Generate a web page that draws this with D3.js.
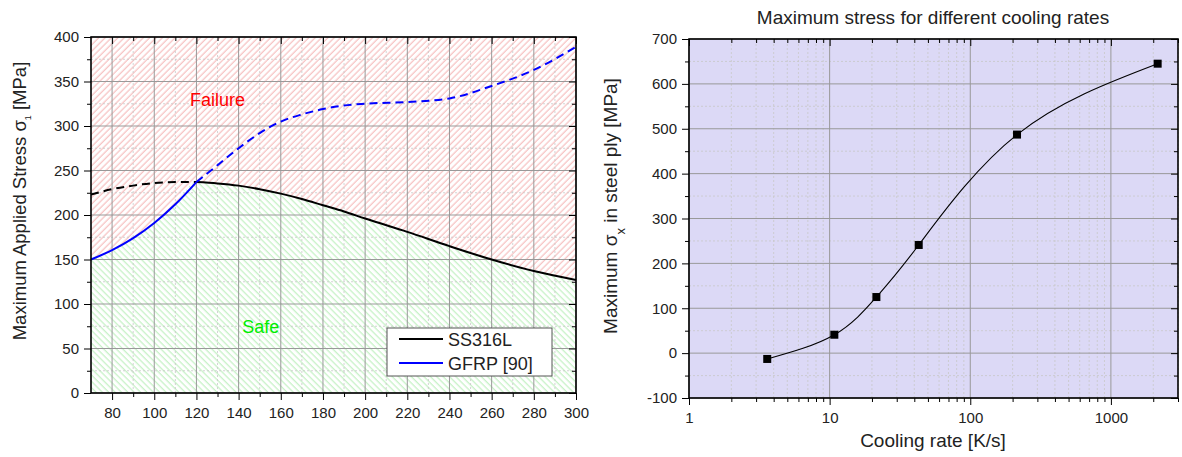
<!DOCTYPE html>
<html>
<head>
<meta charset="utf-8">
<script src="https://cdn.jsdelivr.net/npm/d3@7"></script>
<style>
  body { margin: 0; background: #fff; }
  text { font-family: "Liberation Sans", Arial, sans-serif; fill: #222; }
</style>
</head>
<body>
<div id="chart"></div>
<script>
// ---- left panel: applied stress vs temperature ----
var temps      = [70, 80, 90, 100, 110, 120, 130, 140, 150, 160, 170, 180, 190, 200, 220, 240, 260, 280, 300];
var ssStress   = [223, 229, 233, 236, 237, 237, 235.5, 233, 229, 224, 218, 211, 204, 196, 181, 165, 150, 137, 127];
var gfrpStress = [150, 160.5, 174, 191, 212, 237, 256, 275, 292, 305, 313, 319, 323, 325, 327, 331, 345, 363, 389];
var splitTemp = 120;
var leftXTicks = [80, 100, 120, 140, 160, 180, 200, 220, 240, 260, 280, 300];
var leftXMinor = [90, 110, 130, 150, 170, 190, 210, 230, 250, 270, 290];
var leftYTicks = [0, 50, 100, 150, 200, 250, 300, 350, 400];
var leftYMinor = [25, 75, 125, 175, 225, 275, 325, 375];
var legendNames = ["SS316L", "GFRP [90]"];

// ---- right panel: max stress vs cooling rate ----
var coolRates = [3.6, 10.8, 21.5, 43, 215, 2150];
var maxStress = [-13, 41, 125, 241, 487, 645];
var rightXTicks = [1, 10, 100, 1000];
var rightXMinor = [2, 3, 4, 5, 6, 7, 8, 9, 20, 30, 40, 50, 60, 70, 80, 90, 200, 300, 400, 500, 600, 700, 800, 900, 2000, 3000];
var rightYTicks = [-100, 0, 100, 200, 300, 400, 500, 600, 700];
var rightYMinor = [-50, 50, 150, 250, 350, 450, 550, 650];

var W = 1182, H = 457;
var svg = d3.select("#chart").append("svg").attr("width", W).attr("height", H);
svg.append("rect").attr("width", W).attr("height", H).attr("fill", "#fff");

var defs = svg.append("defs");
function hatch(id, color, angle) {
  var p = defs.append("pattern")
    .attr("id", id)
    .attr("patternUnits", "userSpaceOnUse")
    .attr("width", 4.5).attr("height", 4.5)
    .attr("patternTransform", "rotate(" + angle + ")");
  p.append("rect").attr("width", 4.5).attr("height", 4.5).attr("fill", "#fff");
  p.append("line").attr("x1", 2).attr("y1", 0).attr("x2", 2).attr("y2", 4.5)
    .attr("stroke", color).attr("stroke-width", 1.1);
}
hatch("redHatch", "#f6b9b9", 45);
hatch("greenHatch", "#bdf0bd", -45);

// plain hyphen for negatives, like the original
var fmt = function (d) { return String(d); };

function drawGrid(g, x, y, xMajor, xMinor, yMajor, yMinor) {
  var r = x.range(), d = y.range();
  g.selectAll(".vmin").data(xMinor).enter().append("line")
    .attr("x1", x).attr("x2", x).attr("y1", d[0]).attr("y2", d[1])
    .attr("stroke", "#c8c8c8").attr("stroke-dasharray", "2,2").attr("stroke-width", 0.8);
  g.selectAll(".hmin").data(yMinor).enter().append("line")
    .attr("y1", y).attr("y2", y).attr("x1", r[0]).attr("x2", r[1])
    .attr("stroke", "#c8c8c8").attr("stroke-dasharray", "2,2").attr("stroke-width", 0.8);
  g.selectAll(".vmaj").data(xMajor).enter().append("line")
    .attr("x1", x).attr("x2", x).attr("y1", d[0]).attr("y2", d[1])
    .attr("stroke", "#999").attr("stroke-width", 1);
  g.selectAll(".hmaj").data(yMajor).enter().append("line")
    .attr("y1", y).attr("y2", y).attr("x1", r[0]).attr("x2", r[1])
    .attr("stroke", "#999").attr("stroke-width", 1);
}

function drawAxes(g, x, y, xMajor, xMinor, yMajor, yMinor) {
  var r = x.range(), d = y.range();
  function style(sel) {
    sel.select(".domain").remove();
    sel.selectAll("line").attr("stroke", "#000");
    sel.selectAll("text").style("font-size", "15px").attr("fill", "#222");
  }
  // outward ticks with labels
  g.append("g").attr("transform", "translate(0," + d[0] + ")")
    .call(d3.axisBottom(x).tickValues(xMajor).tickSize(7).tickPadding(7).tickFormat(fmt)).call(style);
  g.append("g").attr("transform", "translate(0," + d[0] + ")")
    .call(d3.axisBottom(x).tickValues(xMinor).tickSize(4).tickFormat("")).call(style);
  g.append("g").attr("transform", "translate(" + r[0] + ",0)")
    .call(d3.axisLeft(y).tickValues(yMajor).tickSize(7).tickPadding(5).tickFormat(fmt)).call(style);
  g.append("g").attr("transform", "translate(" + r[0] + ",0)")
    .call(d3.axisLeft(y).tickValues(yMinor).tickSize(4).tickFormat("")).call(style);
  // inward ticks on top and right
  g.append("g").attr("transform", "translate(0," + d[1] + ")")
    .call(d3.axisTop(x).tickValues(xMajor).tickSize(-7).tickFormat("")).call(style);
  g.append("g").attr("transform", "translate(0," + d[1] + ")")
    .call(d3.axisTop(x).tickValues(xMinor).tickSize(-4).tickFormat("")).call(style);
  g.append("g").attr("transform", "translate(" + r[1] + ",0)")
    .call(d3.axisRight(y).tickValues(yMajor).tickSize(-7).tickFormat("")).call(style);
  g.append("g").attr("transform", "translate(" + r[1] + ",0)")
    .call(d3.axisRight(y).tickValues(yMinor).tickSize(-4).tickFormat("")).call(style);
  g.append("rect")
    .attr("x", r[0]).attr("y", d[1]).attr("width", r[1] - r[0]).attr("height", d[0] - d[1])
    .attr("fill", "none").attr("stroke", "#000").attr("stroke-width", 1.6);
}

// ================= left panel =================
var x1 = d3.scaleLinear().domain([70, 300]).range([91, 576]);
var y1 = d3.scaleLinear().domain([0, 400]).range([393, 37]);
var left = svg.append("g");

var rows = temps.map(function (t, i) {
  return { t: t, ss: ssStress[i], gf: gfrpStress[i], env: Math.min(ssStress[i], gfrpStress[i]) };
});

left.append("path").datum(rows)
  .attr("fill", "url(#redHatch)")
  .attr("d", d3.area().curve(d3.curveMonotoneX)
    .x(function (d) { return x1(d.t); })
    .y0(y1(400))
    .y1(function (d) { return y1(d.env); }));
left.append("path").datum(rows)
  .attr("fill", "url(#greenHatch)")
  .attr("d", d3.area().curve(d3.curveMonotoneX)
    .x(function (d) { return x1(d.t); })
    .y0(y1(0))
    .y1(function (d) { return y1(d.env); }));

drawGrid(left, x1, y1, leftXTicks, leftXMinor, leftYTicks, leftYMinor);

var before = rows.filter(function (d) { return d.t <= splitTemp; });
var after = rows.filter(function (d) { return d.t >= splitTemp; });
function seriesLine(key) {
  return d3.line().curve(d3.curveMonotoneX)
    .x(function (d) { return x1(d.t); })
    .y(function (d) { return y1(d[key]); });
}
// SS316L: dashed before the crossing, solid after
left.append("path").datum(before).attr("fill", "none").attr("stroke", "#000")
  .attr("stroke-width", 2).attr("stroke-dasharray", "8,5").attr("d", seriesLine("ss"));
left.append("path").datum(after).attr("fill", "none").attr("stroke", "#000")
  .attr("stroke-width", 2).attr("d", seriesLine("ss"));
// GFRP: solid before, dashed after
left.append("path").datum(after).attr("fill", "none").attr("stroke", "#0000ff")
  .attr("stroke-width", 2).attr("stroke-dasharray", "8,5").attr("d", seriesLine("gf"));
left.append("path").datum(before).attr("fill", "none").attr("stroke", "#0000ff")
  .attr("stroke-width", 2).attr("d", seriesLine("gf"));

left.append("text").attr("x", x1(130)).attr("y", y1(322))
  .attr("text-anchor", "middle").style("font-size", "18px").style("fill", "#ff0000").text("Failure");
left.append("text").attr("x", x1(150.5)).attr("y", y1(67))
  .attr("text-anchor", "middle").style("font-size", "18px").style("fill", "#00ee00").text("Safe");

drawAxes(left, x1, y1, leftXTicks, leftXMinor, leftYTicks, leftYMinor);

// legend
var lg = left.append("g").attr("transform", "translate(387,328)");
lg.append("rect").attr("width", 165).attr("height", 48)
  .attr("fill", "#fff").attr("stroke", "#555").attr("stroke-width", 1);
var legendColors = ["#000", "#0000ff"];
legendNames.forEach(function (name, i) {
  lg.append("line").attr("x1", 12).attr("x2", 56).attr("y1", 11 + i * 24).attr("y2", 11 + i * 24)
    .attr("stroke", legendColors[i]).attr("stroke-width", 2);
  lg.append("text").attr("x", 61).attr("y", 17.5 + i * 24)
    .style("font-size", "18px").text(name);
});

left.append("text")
  .attr("transform", "translate(26,201) rotate(-90)")
  .attr("text-anchor", "middle").style("font-size", "18.5px")
  .call(function (t) {
    t.append("tspan").text("Maximum Applied Stress \u03c3");
    t.append("tspan").attr("baseline-shift", "sub").style("font-size", "9px").text("1");
    t.append("tspan").text(" [MPa]");
  });

// ================= right panel =================
var x2 = d3.scaleLog().domain([1, 3000]).range([689, 1178]);
var y2 = d3.scaleLinear().domain([-100, 700]).range([398, 39]);
var right = svg.append("g");

right.append("rect")
  .attr("x", 689).attr("y", 39).attr("width", 1178 - 689).attr("height", 398 - 39)
  .attr("fill", "#dcd9f6");

drawGrid(right, x2, y2, rightXTicks, rightXMinor, rightYTicks, rightYMinor);

var pts = coolRates.map(function (c, i) { return { c: c, s: maxStress[i] }; });
right.append("path").datum(pts)
  .attr("fill", "none").attr("stroke", "#000").attr("stroke-width", 1.1)
  .attr("d", d3.line().curve(d3.curveNatural)
    .x(function (d) { return x2(d.c); })
    .y(function (d) { return y2(d.s); }));
right.selectAll(".pt").data(pts).enter().append("rect")
  .attr("x", function (d) { return x2(d.c) - 4; })
  .attr("y", function (d) { return y2(d.s) - 4; })
  .attr("width", 8).attr("height", 8).attr("fill", "#000");

drawAxes(right, x2, y2, rightXTicks, rightXMinor, rightYTicks, rightYMinor);

right.append("text").attr("x", 933).attr("y", 24)
  .attr("text-anchor", "middle").style("font-size", "19px")
  .text("Maximum stress for different cooling rates");
right.append("text").attr("x", 933).attr("y", 447)
  .attr("text-anchor", "middle").style("font-size", "19px")
  .text("Cooling rate [K/s]");
right.append("text")
  .attr("transform", "translate(617,206) rotate(-90)")
  .attr("text-anchor", "middle").style("font-size", "19px")
  .call(function (t) {
    t.append("tspan").text("Maximum \u03c3");
    t.append("tspan").attr("baseline-shift", "sub").style("font-size", "13px").text("x");
    t.append("tspan").text(" in steel ply [MPa]");
  });
</script>
</body>
</html>
